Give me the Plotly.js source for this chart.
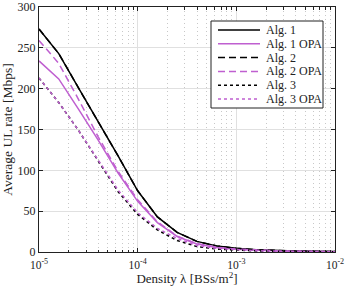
<!DOCTYPE html>
<html>
<head>
<meta charset="utf-8">
<script src="https://cdn.plot.ly/plotly-3.0.1.min.js"></script>
<style>html,body{margin:0;padding:0;background:#fff;}#chart{width:345px;height:286px;}</style>
</head>
<body>
<div id="chart"></div>
<script>
// Density values (BSs/m^2): 10^-5 ... 10^-2 in 0.2-decade steps
const density = [1e-5, 1.585e-5, 2.512e-5, 3.981e-5, 6.31e-5, 1e-4, 1.585e-4, 2.512e-4, 3.981e-4, 6.31e-4, 1e-3, 1.585e-3, 2.512e-3, 3.981e-3, 6.31e-3, 1e-2];
const alg1    = [273, 243, 201, 160, 118, 75, 43, 24, 13, 7.5, 4.5, 2.8, 1.8, 1.2, 0.8, 0.5];
const alg1OPA = [234, 212, 175, 137, 97, 62, 36, 19, 9.8, 5.5, 3.3, 2.1, 1.4, 0.9, 0.6, 0.4];
const alg2    = [273, 243, 201, 160, 118, 75, 43, 24, 13, 7.5, 4.5, 2.8, 1.8, 1.2, 0.8, 0.5];
const alg2OPA = [259, 231, 187, 141, 99, 64, 37, 19.5, 10.2, 5.8, 3.5, 2.2, 1.4, 0.95, 0.65, 0.4];
const alg3    = [213, 183, 149, 111, 74, 46, 27, 14, 6.8, 3.6, 2.1, 1.3, 0.8, 0.5, 0.35, 0.25];
const alg3OPA = [213, 183, 149, 112, 76, 48, 29, 16.5, 8, 4.4, 2.6, 1.6, 1.0, 0.65, 0.45, 0.3];
const names = ["Alg. 1", "Alg. 1 OPA", "Alg. 2", "Alg. 2 OPA", "Alg. 3", "Alg. 3 OPA"];
const xTickVals = [1e-5, 1e-4, 1e-3, 1e-2];
const xTickText = ["10<sup>-5</sup>", "10<sup>-4</sup>", "10<sup>-3</sup>", "10<sup>-2</sup>"];

const BLACK = "#000000", MAG = "#bf5fd0";
const series = [alg1, alg1OPA, alg2, alg2OPA, alg3, alg3OPA];
const colors = [BLACK, MAG, BLACK, MAG, BLACK, MAG];
const dashes = ["solid", "solid", "7px,4px", "7px,4px", "dot", "dot"];
const FF = "Liberation Serif, serif";

const traces = series.map((ys, i) => ({
  x: density, y: ys, name: names[i], type: "scatter", mode: "lines",
  line: {color: colors[i], width: 1.5, dash: dashes[i]}, showlegend: false
}));

// Custom compact legend (paper coordinates)
const pxX = px => (px - 39) / 296;
const pxY = py => (252 - py) / 245;
const shapes = [{
  type: "rect", xref: "paper", yref: "paper",
  x0: pxX(211), x1: pxX(323), y0: pxY(108), y1: pxY(21),
  line: {color: "#222", width: 1}, fillcolor: "#fff", layer: "above"
}];
const annotations = [];
names.forEach((n, i) => {
  const py = 30 + 13.8 * i;
  shapes.push({
    type: "line", xref: "paper", yref: "paper",
    x0: pxX(218), x1: pxX(260), y0: pxY(py), y1: pxY(py),
    line: {color: colors[i], width: 1.5, dash: dashes[i]}, layer: "above"
  });
  annotations.push({
    xref: "paper", yref: "paper", x: pxX(264), y: pxY(py),
    xanchor: "left", yanchor: "middle", showarrow: false,
    text: n, font: {family: FF, size: 12, color: "#222"}
  });
});

const layout = {
  width: 345, height: 286,
  margin: {l: 39, r: 10, t: 7, b: 34},
  paper_bgcolor: "#fff", plot_bgcolor: "#fff",
  font: {family: FF, size: 12, color: "#222"},
  showlegend: false,
  shapes: shapes,
  annotations: annotations,
  xaxis: {
    type: "log", range: [-5, -2],
    tickmode: "array", tickvals: xTickVals, ticktext: xTickText,
    ticklabeloverflow: "allow", ticklabelstandoff: 2,
    showline: true, linecolor: "#222", linewidth: 1, mirror: "ticks",
    ticks: "inside", ticklen: 4, tickcolor: "#222",
    showgrid: true, gridcolor: "#e0e0e0", gridwidth: 1,
    zeroline: false,
    minor: {dtick: "D1", ticks: "inside", ticklen: 2.5, tickcolor: "#222", showgrid: true, gridcolor: "#c8c8c8", griddash: "1px,3px", gridwidth: 1},
    title: {text: "Density λ [BSs/m<sup>2</sup>]", font: {family: FF, size: 13, color: "#222"}, standoff: 2},
    tickfont: {family: FF, size: 11.5, color: "#222"}
  },
  yaxis: {
    range: [0, 300], dtick: 50,
    showline: true, linecolor: "#222", linewidth: 1, mirror: "ticks",
    ticks: "inside", ticklen: 4, tickcolor: "#222",
    showgrid: true, gridcolor: "#e0e0e0", gridwidth: 1,
    zeroline: false,
    title: {text: "Average UL rate [Mbps]", font: {family: FF, size: 13.5, color: "#222"}, standoff: 5},
    tickfont: {family: FF, size: 12, color: "#222"}
  }
};

Plotly.newPlot("chart", traces, layout, {displayModeBar: false, staticPlot: true});
</script>
</body>
</html>
